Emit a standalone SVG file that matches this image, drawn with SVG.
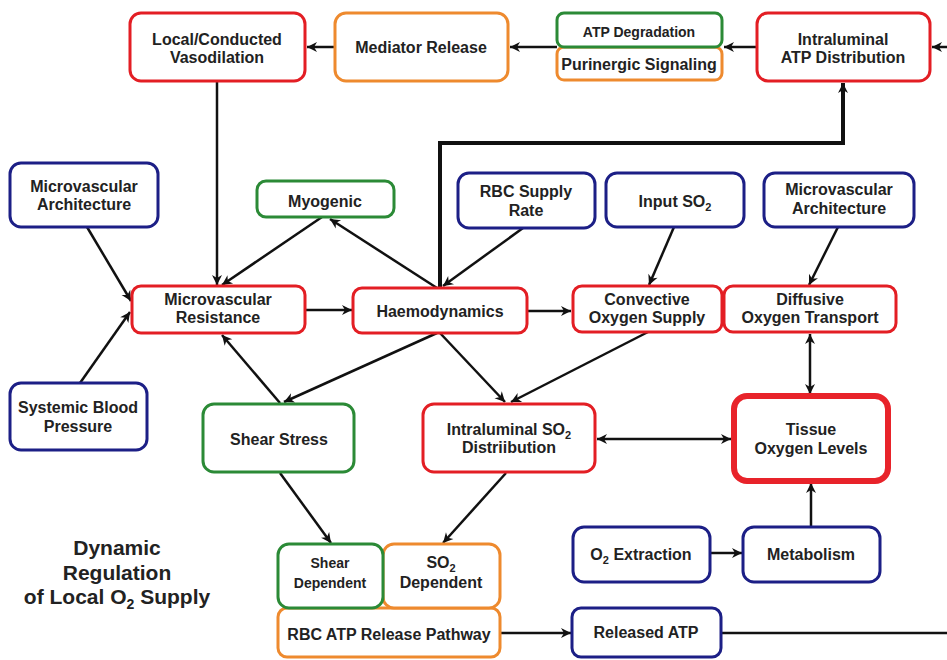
<svg xmlns="http://www.w3.org/2000/svg" width="947" height="660" viewBox="0 0 947 660">
<defs>
<style>
.b{fill:#fff;stroke-width:3}
.red{stroke:#e31e24}
.blue{stroke:#1c1f86}
.green{stroke:#2b8a36}
.orange{stroke:#ee8a2e}
text{font-family:"Liberation Sans",Arial,sans-serif;font-weight:bold;font-size:16px;fill:#222;text-anchor:middle}
.s{font-size:14px}
.sub{font-size:11px}
.title{font-size:21px}
.c path{fill:none;stroke:#111;stroke-width:2.5}
</style>
<marker id="ah" viewBox="0 0 12 12" refX="11" refY="6" markerWidth="12" markerHeight="12" orient="auto-start-reverse" markerUnits="userSpaceOnUse">
<path d="M1,1 L11,6 L1,11 L4,6 z" fill="#111"/>
</marker>
</defs>
<rect width="947" height="660" fill="#fff"/>

<g class="c" id="connectors">
<path d="M335,47 L307,47" marker-end="url(#ah)"/>
<path d="M557,47 L510,47" marker-end="url(#ah)"/>
<path d="M757,47 L724,47" marker-end="url(#ah)"/>
<path d="M947,47 L932,47" marker-end="url(#ah)"/>
<path d="M217,81 L217,285" marker-end="url(#ah)"/>
<path d="M322,217 L222,285" marker-end="url(#ah)"/>
<path d="M437,288 L330,219" marker-end="url(#ah)"/>
<path d="M523,228 L443,286" marker-end="url(#ah)"/>
<path d="M440,288 L440,143 L843,143 L843,83" style="stroke-width:4" marker-end="url(#ah)"/>
<path d="M87,227 L131,301" marker-end="url(#ah)"/>
<path d="M80,383 L130,312" marker-end="url(#ah)"/>
<path d="M305,310 L352,310" marker-end="url(#ah)"/>
<path d="M527,311 L571,311" marker-end="url(#ah)"/>
<path d="M674,227 L649,285" marker-end="url(#ah)"/>
<path d="M838,227 L809,285" marker-end="url(#ah)"/>
<path d="M810,334 L810,394" marker-start="url(#ah)" marker-end="url(#ah)"/>
<path d="M648,332 L511,402" marker-end="url(#ah)"/>
<path d="M440,333 L505,402" marker-end="url(#ah)"/>
<path d="M437,333 L284,402" marker-end="url(#ah)"/>
<path d="M280,403 L222,335" marker-end="url(#ah)"/>
<path d="M597,439 L731,439" marker-start="url(#ah)" marker-end="url(#ah)"/>
<path d="M280,473 L331,543" marker-end="url(#ah)"/>
<path d="M506,473 L443,543" marker-end="url(#ah)"/>
<path d="M500,633 L571,633" marker-end="url(#ah)"/>
<path d="M721,633 L947,633"/>
<path d="M710,553 L742,553" marker-end="url(#ah)"/>
<path d="M811,527 L811,483" marker-end="url(#ah)"/>
</g>

<g id="local-vasodilation">
<rect class="b red" x="130" y="13" width="175" height="68" rx="11"/>
<text x="217" y="45">Local/Conducted</text>
<text x="217" y="63">Vasodilation</text>
</g>
<g id="mediator-release">
<rect class="b orange" x="335" y="13" width="173" height="68" rx="11"/>
<text x="421" y="53">Mediator Release</text>
</g>
<g id="purinergic-signaling">
<rect class="b orange" x="557" y="47" width="165" height="33" rx="7"/>
<text x="639" y="70">Purinergic Signaling</text>
</g>
<g id="atp-degradation">
<rect class="b green" x="557" y="13" width="165" height="34" rx="7"/>
<text class="s" x="639" y="37">ATP Degradation</text>
</g>
<g id="intraluminal-atp">
<rect class="b red" x="757" y="13" width="173" height="68" rx="11"/>
<text x="843" y="45">Intraluminal</text>
<text x="843" y="63">ATP Distribution</text>
</g>

<g id="microvascular-architecture-left">
<rect class="b blue" x="10" y="163" width="148" height="64" rx="11"/>
<text x="84" y="192">Microvascular</text>
<text x="84" y="210">Architecture</text>
</g>
<g id="myogenic">
<rect class="b green" x="257" y="181" width="137" height="36" rx="9"/>
<text x="325" y="207">Myogenic</text>
</g>
<g id="rbc-supply-rate">
<rect class="b blue" x="458" y="173" width="137" height="55" rx="11"/>
<text x="526" y="197">RBC Supply</text>
<text x="526" y="216">Rate</text>
</g>
<g id="input-so2">
<rect class="b blue" x="606" y="173" width="138" height="54" rx="11"/>
<text x="675" y="207">Input SO<tspan class="sub" dy="4">2</tspan></text>
</g>
<g id="microvascular-architecture-right">
<rect class="b blue" x="764" y="173" width="150" height="54" rx="11"/>
<text x="839" y="195">Microvascular</text>
<text x="839" y="214">Architecture</text>
</g>

<g id="microvascular-resistance">
<rect class="b red" x="132" y="286" width="173" height="47" rx="9"/>
<text x="218" y="305">Microvascular</text>
<text x="218" y="323">Resistance</text>
</g>
<g id="haemodynamics">
<rect class="b red" x="353" y="288" width="174" height="45" rx="9"/>
<text x="440" y="317">Haemodynamics</text>
</g>
<g id="convective-oxygen-supply">
<rect class="b red" x="573" y="286" width="149" height="46" rx="9"/>
<text x="647" y="305">Convective</text>
<text x="647" y="323">Oxygen Supply</text>
</g>
<g id="diffusive-oxygen-transport">
<rect class="b red" x="724" y="286" width="172" height="46" rx="9"/>
<text x="810" y="305">Diffusive</text>
<text x="810" y="323">Oxygen Transport</text>
</g>

<g id="systemic-blood-pressure">
<rect class="b blue" x="10" y="383" width="137" height="67" rx="11"/>
<text x="78" y="413">Systemic Blood</text>
<text x="78" y="432">Pressure</text>
</g>
<g id="shear-stress">
<rect class="b green" x="203" y="404" width="151" height="68" rx="11"/>
<text x="279" y="445">Shear Stress</text>
</g>
<g id="intraluminal-so2">
<rect class="b red" x="423" y="404" width="172" height="68" rx="11"/>
<text x="509" y="435">Intraluminal SO<tspan class="sub" dy="4">2</tspan></text>
<text x="509" y="453">Distriibution</text>
</g>
<g id="tissue-oxygen-levels">
<rect class="b red" x="734" y="396" width="154" height="85" rx="13" style="stroke-width:6;stroke:#e8232a"/>
<text x="811" y="435">Tissue</text>
<text x="811" y="454">Oxygen Levels</text>
</g>

<g id="rbc-atp-release-pathway">
<rect class="b orange" x="278" y="608" width="222" height="49" rx="9"/>
<text x="389" y="640">RBC ATP Release Pathway</text>
</g>
<g id="so2-dependent">
<rect class="b orange" x="383" y="544" width="117" height="64" rx="11"/>
<text x="441" y="568">SO<tspan class="sub" dy="4">2</tspan></text>
<text x="441" y="588">Dependent</text>
</g>
<g id="shear-dependent">
<rect class="b green" x="278" y="544" width="105" height="64" rx="11"/>
<text class="s" x="330" y="568">Shear</text>
<text class="s" x="330" y="588">Dependent</text>
</g>

<g id="o2-extraction">
<rect class="b blue" x="573" y="527" width="137" height="55" rx="11"/>
<text x="641" y="560">O<tspan class="sub" dy="4">2</tspan><tspan dy="-4"> Extraction</tspan></text>
</g>
<g id="metabolism">
<rect class="b blue" x="743" y="527" width="137" height="55" rx="11"/>
<text x="811" y="560">Metabolism</text>
</g>
<g id="released-atp">
<rect class="b blue" x="572" y="608" width="149" height="49" rx="9"/>
<text x="646" y="638">Released ATP</text>
</g>

<g id="title">
<text class="title" x="117" y="555">Dynamic</text>
<text class="title" x="117" y="580">Regulation</text>
<text class="title" x="117" y="604">of Local O<tspan style="font-size:14px" dy="5">2</tspan><tspan dy="-5"> Supply</tspan></text>
</g>
</svg>
